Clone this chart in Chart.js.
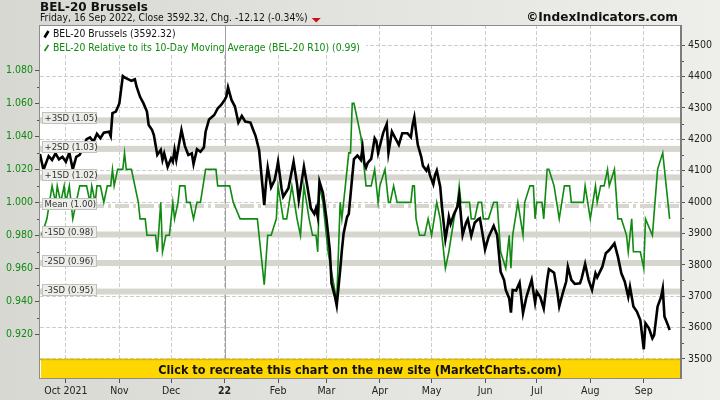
<!DOCTYPE html>
<html>
<head>
<meta charset="utf-8">
<script src="https://cdn.jsdelivr.net/npm/chart.js@4.4.1/dist/chart.umd.min.js"></script>
<style>
  html, body { margin: 0; padding: 0; background: #e2e2de; }
  canvas { display: block; }
</style>
</head>
<body>
<canvas id="chart" width="720" height="400"></canvas>
<script>
// x = days counted from Fri 16 Sep 2021
const monthDays = [15, 46, 76, 107, 138, 166, 197, 227, 258, 288, 319, 350];
const monthLabels = ["Oct 2021", "Nov", "Dec", "22", "Feb", "Mar", "Apr", "May", "Jun", "Jul", "Aug", "Sep"];
const priceTicks = [3500, 3600, 3700, 3800, 3900, 4000, 4100, 4200, 4300, 4400, 4500];
const ratioTicks = [0.92, 0.94, 0.96, 0.98, 1.0, 1.02, 1.04, 1.06, 1.08];

const bel20Days = [0, 2, 5, 7, 9, 11, 13, 15, 17, 19, 21, 23, 27, 29, 31, 33, 35, 37, 40, 41,
  42, 44, 46, 48, 49, 53, 55, 56, 58, 60, 62, 63, 65, 66, 68, 70, 71, 72, 74, 76,
  77, 78, 79, 82, 84, 86, 88, 89, 91, 93, 95, 96, 98, 101, 103, 105, 107, 108, 109, 111,
  113, 115, 117, 119, 122, 124, 125, 127, 129, 130, 131, 132, 134, 136, 137, 138, 140, 141, 144, 147,
  149, 150, 153, 155, 157, 159, 160, 161, 162, 164, 166, 168, 169, 171, 172, 174, 175, 176, 178, 179,
  181, 182, 184, 186, 187, 188, 189, 190, 192, 194, 195, 196, 198, 199, 201, 202, 204, 206, 208, 210,
  213, 215, 216, 217, 218, 219, 221, 222, 224, 225, 226, 228, 229, 230, 232, 233, 235, 236, 237, 238,
  240, 242, 243, 245, 247, 248, 250, 252, 254, 255, 256, 258, 260, 263, 264, 265, 267, 269, 270, 272,
  273, 274, 276, 278, 280, 282, 285, 287, 288, 290, 292, 294, 295, 298, 300, 301, 303, 305, 306, 308,
  310, 313, 314, 316, 318, 320, 322, 323, 326, 328, 330, 333, 335, 337, 339, 341, 342, 344, 346, 348,
  350, 351, 353, 355, 356, 358, 360, 361, 362, 364, 365];
const bel20Close = [4153, 4102, 4146, 4134, 4155, 4136, 4144, 4128, 4157, 4104, 4144, 4150, 4200, 4206, 4192, 4217, 4203, 4221, 4224, 4210,
  4283, 4288, 4314, 4401, 4397, 4386, 4391, 4367, 4335, 4314, 4288, 4245, 4229, 4213, 4150, 4166, 4134, 4155, 4112, 4139,
  4128, 4166, 4134, 4229, 4178, 4150, 4155, 4121, 4168, 4160, 4174, 4224, 4263, 4277, 4298, 4309, 4325, 4335, 4365, 4325,
  4304, 4253, 4274, 4256, 4253, 4224, 4210, 4166, 4049, 3990, 4060, 4110, 4047, 4070, 4096, 4128, 4044, 4017, 4044, 4128,
  4057, 4006, 4112, 4049, 3980, 3962, 3980, 3953, 4065, 4029, 3949, 3847, 3741, 3698, 3670, 3783, 3847, 3900, 3952, 3962,
  4081, 4137, 4148, 4134, 4174, 4124, 4110, 4125, 4137, 4203, 4194, 4156, 4200, 4221, 4248, 4157, 4224, 4203, 4182, 4219,
  4219, 4206, 4245, 4270, 4224, 4182, 4144, 4115, 4100, 4112, 4086, 4057, 4086, 4100, 4049, 3985, 3881, 3913, 3953, 3930,
  3962, 3985, 4019, 3895, 3934, 3945, 3892, 3934, 3945, 3948, 3916, 3849, 3888, 3924, 3909, 3895, 3778, 3752, 3720, 3693,
  3648, 3720, 3718, 3743, 3646, 3698, 3752, 3679, 3714, 3697, 3661, 3752, 3786, 3775, 3709, 3667, 3709, 3746, 3794, 3752,
  3739, 3741, 3757, 3803, 3752, 3720, 3773, 3760, 3794, 3837, 3847, 3868, 3826, 3773, 3746, 3698, 3730, 3667, 3651, 3624,
  3531, 3614, 3598, 3566, 3576, 3667, 3697, 3725, 3635, 3608, 3592.32];

const r10Days = [1, 4, 7, 9, 10, 12, 14, 15, 17, 19, 21, 23, 27, 29, 30, 32, 33, 35, 37, 39,
  41, 42, 43, 45, 48, 49, 50, 53, 55, 57, 58, 61, 62, 67, 68, 70, 71, 73, 75, 77,
  78, 80, 81, 84, 85, 87, 89, 91, 93, 96, 102, 103, 110, 112, 116, 126, 128, 130, 132, 134,
  137, 138, 141, 143, 146, 149, 151, 153, 156, 158, 160, 161, 162, 164, 166, 167, 172, 174, 175, 177,
  179, 180, 181, 182, 186, 187, 188, 189, 192, 194, 196, 197, 200, 202, 203, 205, 207, 215, 216, 217,
  218, 220, 223, 225, 227, 230, 232, 235, 237, 240, 242, 243, 244, 249, 250, 252, 254, 256, 257, 260,
  263, 265, 267, 270, 272, 273, 274, 277, 280, 281, 284, 286, 287, 288, 291, 292, 294, 295, 298, 301,
  304, 307, 308, 315, 316, 319, 322, 323, 325, 327, 329, 330, 333, 335, 337, 340, 341, 343, 344, 348,
  350, 351, 355, 358, 361, 363, 364, 365];
const r10Values = [0.98, 0.99, 1.01, 1.00, 1.01, 1.00, 1.01, 1.00, 1.01, 0.99, 1.00, 1.01, 1.01, 1.00, 1.01, 1.00, 1.01, 1.01, 1.00, 1.01,
  1.01, 1.02, 1.01, 1.02, 1.02, 1.03, 1.02, 1.02, 1.01, 1.00, 0.99, 0.99, 0.98, 0.98, 0.97, 1.00, 0.97, 0.98, 0.98, 1.00,
  0.99, 1.00, 1.01, 1.01, 1.00, 1.00, 0.99, 1.00, 1.00, 1.02, 1.02, 1.01, 1.01, 1.00, 0.99, 0.99, 0.97, 0.95, 0.98, 0.98,
  0.99, 1.01, 0.99, 0.99, 1.01, 0.99, 0.98, 1.01, 0.99, 0.98, 0.98, 0.97, 1.01, 1.00, 0.98, 0.97, 0.94, 1.00, 0.99, 1.01,
  1.03, 1.03, 1.06, 1.06, 1.04, 1.03, 1.02, 1.01, 1.01, 1.02, 1.00, 1.01, 1.02, 1.00, 1.00, 1.01, 1.00, 1.00, 1.01, 1.01,
  0.99, 0.98, 0.98, 0.99, 0.98, 1.00, 0.99, 0.96, 0.97, 0.99, 1.00, 1.01, 1.00, 1.00, 0.99, 0.99, 1.00, 1.00, 0.99, 0.99,
  1.00, 1.00, 0.97, 0.96, 0.98, 0.96, 0.98, 1.00, 0.98, 1.00, 1.01, 1.01, 0.99, 1.00, 1.00, 0.99, 1.02, 1.02, 1.01, 0.99,
  1.01, 1.01, 1.00, 1.00, 1.01, 0.99, 1.01, 1.00, 1.01, 1.01, 1.02, 1.01, 1.02, 0.99, 0.99, 0.98, 0.97, 0.99, 0.97, 0.97,
  0.96, 0.99, 0.98, 1.02, 1.03, 1.01, 1.00, 0.99];

const sdNames = ["+3SD", "+2SD", "+1SD", "Mean", "-1SD", "-2SD", "-3SD"];
const sdLevels = [1.0497, 1.0324, 1.0151, 0.9978, 0.9805, 0.9632, 0.9459];

const titleText = "BEL-20 Brussels";
const subtitleText = "Friday, 16 Sep 2022, Close 3592.32, Chg. -12.12 (-0.34%)";
const creditText = "\u00a9IndexIndicators.com";
const legendTexts = ["BEL-20 Brussels (3592.32)", "BEL-20 Relative to its 10-Day Moving Average (BEL-20 R10) (0.99)"];
const bannerText = "Click to recreate this chart on the new site (MarketCharts.com)";

const GREEN = "#108a10";
const COND = "'DejaVu Sans Condensed', 'DejaVu Sans', sans-serif";

// pick a font size so the text spans about the same width as in the picture
function fitFont(ctx, text, weight, family, width) {
  ctx.font = weight + " 20px " + family;
  const size = 20 * width / ctx.measureText(text).width;
  ctx.font = weight + " " + size.toFixed(2) + "px " + family;
}

const decor = {
  id: "decor",
  beforeDraw(chart) {
    const { ctx, chartArea: a, width, height } = chart;
    ctx.save();
    const g = ctx.createLinearGradient(0, 0, width, 0);
    g.addColorStop(0, "#d8d8d3");
    g.addColorStop(1, "#eeeeeb");
    ctx.fillStyle = g;
    ctx.fillRect(0, 0, width, height);
    ctx.fillStyle = "#fff";
    ctx.fillRect(a.left, a.top, a.right - a.left, a.bottom - a.top);
    ctx.restore();
  },
  beforeDatasetsDraw(chart) {
    const { ctx, chartArea: a } = chart;
    const yL = chart.scales.yL;
    const x = chart.scales.x;
    ctx.save();
    // legend area hides the grid
    ctx.fillStyle = "#fff";
    ctx.fillRect(a.left + 1, a.top + 1, 325, 29);
    // solid line at the new year
    const xj = Math.round(x.getPixelForValue(107)) + 0.5;
    ctx.strokeStyle = "#a0a0a0";
    ctx.lineWidth = 1;
    ctx.beginPath();
    ctx.moveTo(xj, a.top);
    ctx.lineTo(xj, a.bottom);
    ctx.stroke();
    // standard deviation bands
    sdLevels.forEach((v, i) => {
      const y = yL.getPixelForValue(v);
      if (sdNames[i] === "Mean") {
        ctx.strokeStyle = "#d6d6ce";
        ctx.lineWidth = 4;
        ctx.setLineDash([14, 4, 3, 4]);
        ctx.beginPath();
        ctx.moveTo(a.left, y);
        ctx.lineTo(a.right, y);
        ctx.stroke();
        ctx.setLineDash([]);
      } else {
        ctx.fillStyle = "#d6d6ce";
        ctx.fillRect(a.left, y - 3, a.right - a.left, 6);
      }
    });
    ctx.restore();
  },
  afterDatasetsDraw(chart) {
    const { ctx, chartArea: a } = chart;
    const yL = chart.scales.yL;
    ctx.save();
    // band labels
    ctx.font = "9.5px " + COND;
    ctx.textBaseline = "alphabetic";
    sdLevels.forEach((v, i) => {
      const y = Math.round(yL.getPixelForValue(v));
      ctx.fillStyle = "#ededE9";
      ctx.fillRect(42, y - 8, 54, 11);
      ctx.strokeStyle = "#c2c2bc";
      ctx.lineWidth = 1;
      ctx.strokeRect(42.5, y - 7.5, 54, 11);
      ctx.fillStyle = "#333";
      ctx.fillText(sdNames[i] + " (" + v.toFixed(2) + ")", 44.5, y + 1);
    });
    // legend
    fitFont(ctx, legendTexts[1], "normal", COND, 307);
    ctx.fillStyle = "#111";
    ctx.fillText(legendTexts[0], 53, 37);
    ctx.fillStyle = GREEN;
    ctx.fillText(legendTexts[1], 53, 50.5);
    ctx.lineCap = "butt";
    ctx.strokeStyle = "#000";
    ctx.lineWidth = 2.6;
    ctx.beginPath();
    ctx.moveTo(44.5, 37.5);
    ctx.lineTo(48.5, 31);
    ctx.stroke();
    ctx.strokeStyle = GREEN;
    ctx.lineWidth = 1.6;
    ctx.beginPath();
    ctx.moveTo(44.5, 51);
    ctx.lineTo(48.5, 45);
    ctx.stroke();
    // banner
    ctx.fillStyle = "#ffd700";
    ctx.fillRect(a.left + 1, 360, a.right - a.left - 1, 19);
    ctx.strokeStyle = "#e0b800";
    ctx.beginPath();
    ctx.moveTo(a.left, 359.5);
    ctx.lineTo(a.right, 359.5);
    ctx.stroke();
    fitFont(ctx, bannerText, "bold", COND, 404);
    ctx.fillStyle = "#111";
    ctx.textAlign = "center";
    ctx.fillText(bannerText, (a.left + a.right) / 2, 374);
    ctx.textAlign = "left";
    ctx.restore();
  },
  afterDraw(chart) {
    const { ctx, chartArea: a } = chart;
    const yL = chart.scales.yL;
    const yR = chart.scales.yR;
    ctx.save();
    // plot frame
    ctx.strokeStyle = "#8c8c8c";
    ctx.lineWidth = 1;
    ctx.beginPath();
    ctx.moveTo(a.left - 0.5, a.top + 0.5);
    ctx.lineTo(a.right, a.top + 0.5);
    ctx.moveTo(a.left - 0.5, a.top);
    ctx.lineTo(a.left - 0.5, a.bottom);
    ctx.moveTo(a.left, a.bottom - 0.5);
    ctx.lineTo(a.right, a.bottom - 0.5);
    ctx.stroke();
    ctx.strokeStyle = "#7c7c7c";
    ctx.lineWidth = 2;
    ctx.beginPath();
    ctx.moveTo(a.right + 1, a.top);
    ctx.lineTo(a.right + 1, a.bottom);
    ctx.stroke();
    // minor ticks
    ctx.strokeStyle = "#555";
    ctx.lineWidth = 1;
    ctx.beginPath();
    for (let i = 0; i < ratioTicks.length - 1; i++) {
      const y = Math.round(yL.getPixelForValue((ratioTicks[i] + ratioTicks[i + 1]) / 2)) + 0.5;
      ctx.moveTo(a.left - 3, y);
      ctx.lineTo(a.left - 1, y);
    }
    for (let i = 0; i < priceTicks.length - 1; i++) {
      const y = Math.round(yR.getPixelForValue((priceTicks[i] + priceTicks[i + 1]) / 2)) + 0.5;
      ctx.moveTo(a.right + 2, y);
      ctx.lineTo(a.right + 4, y);
    }
    ctx.stroke();
    // header
    ctx.fillStyle = "#111";
    fitFont(ctx, titleText, "bold", "'DejaVu Sans', sans-serif", 108);
    ctx.fillText(titleText, 40, 11);
    fitFont(ctx, subtitleText, "normal", COND, 268);
    ctx.fillText(subtitleText, 40, 21);
    const tx = 40 + ctx.measureText(subtitleText).width + 4;
    ctx.fillStyle = "#d01010";
    ctx.beginPath();
    ctx.moveTo(tx, 18);
    ctx.lineTo(tx + 9, 18);
    ctx.lineTo(tx + 4.5, 22.5);
    ctx.closePath();
    ctx.fill();
    ctx.fillStyle = "#111";
    fitFont(ctx, creditText, "bold", "'DejaVu Sans', sans-serif", 152);
    ctx.textAlign = "right";
    ctx.fillText(creditText, 678, 20.5);
    ctx.restore();
  }
};

const axisFont = { family: COND, size: 10.5 };

new Chart(document.getElementById("chart"), {
  type: "line",
  data: {
    datasets: [
      {
        label: legendTexts[0],
        data: bel20Days.map((d, i) => ({ x: d, y: bel20Close[i] })),
        yAxisID: "yR",
        borderColor: "#000",
        borderWidth: 2.6,
        pointRadius: 0,
        tension: 0,
      },
      {
        label: legendTexts[1],
        data: r10Days.map((d, i) => ({ x: d, y: r10Values[i] })),
        yAxisID: "yL",
        borderColor: GREEN,
        borderWidth: 1.6,
        pointRadius: 0,
        tension: 0,
      },
    ],
  },
  options: {
    responsive: false,
    animation: false,
    events: [],
    layout: { padding: { top: 25, left: 0, right: 0, bottom: 0 } },
    plugins: { legend: { display: false }, tooltip: { enabled: false } },
    scales: {
      x: {
        type: "linear",
        min: 0,
        max: 371,
        afterBuildTicks: (s) => { s.ticks = monthDays.map((v) => ({ value: v })); },
        afterFit: (s) => { s.height = 21; },
        ticks: {
          callback: (v, i) => monthLabels[i],
          autoSkip: false,
          maxRotation: 0,
          padding: 2,
          color: "#222",
          font: (c) => ({ family: COND, size: 10.5, weight: c.tick && c.tick.value === 107 ? "bold" : "normal" }),
        },
        grid: { color: "#cdcdcd", tickLength: 4, tickColor: "#555" },
        border: { display: false, dash: [4, 2] },
      },
      yL: {
        position: "left",
        min: 0.8929,
        max: 1.1075,
        afterBuildTicks: (s) => { s.ticks = ratioTicks.map((v) => ({ value: v })); },
        afterFit: (s) => { s.width = 40; },
        ticks: { callback: (v) => v.toFixed(3), color: GREEN, font: axisFont, padding: 2 },
        grid: { drawOnChartArea: false, tickLength: 5, tickColor: "#555" },
        border: { display: false },
      },
      yR: {
        position: "right",
        min: 3436.3,
        max: 4563.7,
        afterBuildTicks: (s) => { s.ticks = priceTicks.map((v) => ({ value: v })); },
        afterFit: (s) => { s.width = 40; },
        ticks: { callback: (v) => String(v), color: "#222", font: axisFont, padding: 3 },
        grid: { color: "#cdcdcd", tickLength: 5, tickColor: "#555" },
        border: { display: false, dash: [4, 2] },
      },
    },
  },
  plugins: [decor],
});
</script>
</body>
</html>
